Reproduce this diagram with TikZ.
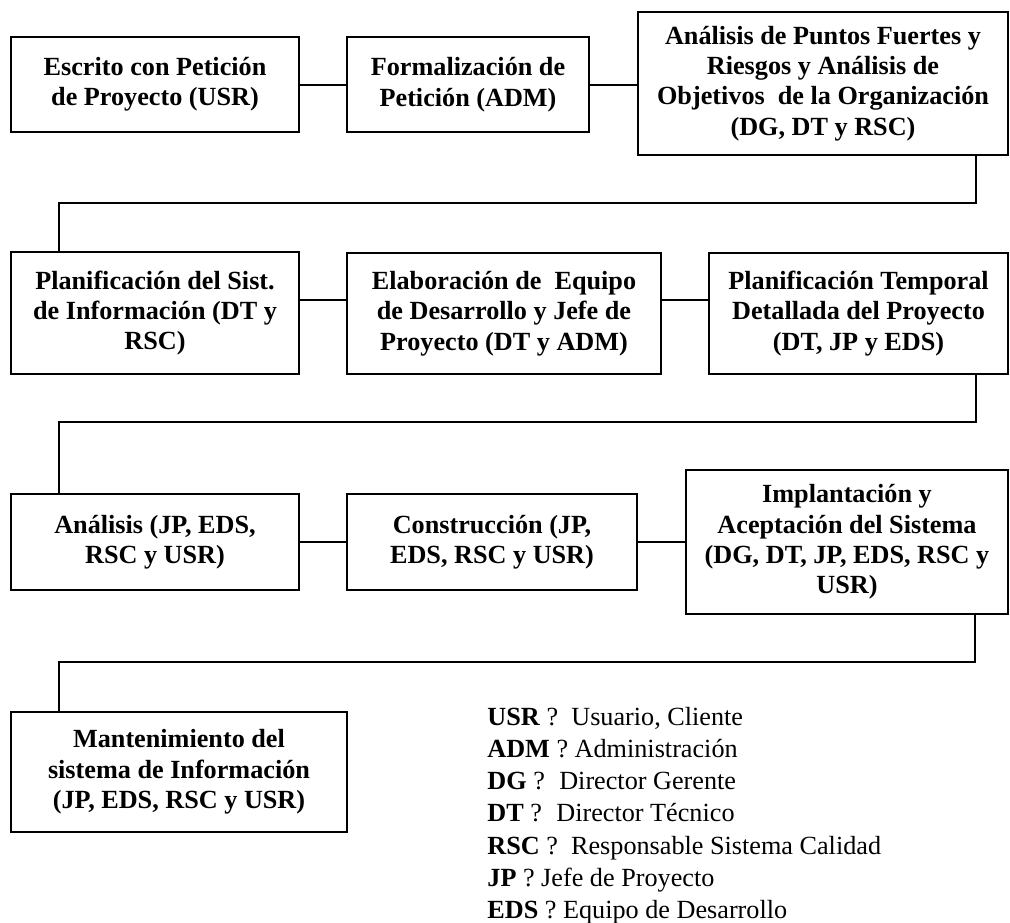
\documentclass[tikz,border=0pt]{standalone}
\usepackage{fontspec}
\setmainfont{Liberation Serif}
\begin{document}
\begin{tikzpicture}[x=0.5pt,y=-0.5pt,
  box/.style 2 args={draw, line width=1pt, minimum width=#1*0.5pt, minimum height=#2*0.5pt,
    align=center, inner sep=0pt, font=\fontsize{13.1}{15.2}\selectfont\bfseries},
  link/.style={line width=1pt},
  legend/.style={anchor=base west, inner sep=0pt, font=\fontsize{13.1}{15}\selectfont}]
\useasboundingbox (0,0) rectangle (1010,922);
% row 1
\node[box={288}{95}] (A) at (155,84.5) {Escrito con Petición\\de Proyecto (USR)};
\node[box={242}{95}] (B) at (468,84.5) {Formalización de\\Petición (ADM)};
\node[box={370}{143}] (C) at (823,83.5) {Análisis de Puntos Fuertes y\\Riesgos y Análisis de\\Objetivos\ \ de la Organización\\(DG, DT y RSC)};
% row 2
\node[box={288}{122}] (D) at (155,313) {Planificación del Sist.\\de Información (DT y\\RSC)};
\node[box={314}{121}] (E) at (504,313.5) {Elaboración de\ \ Equipo\\de Desarrollo y Jefe de\\Proyecto (DT y ADM)};
\node[box={299}{121}] (F) at (858.5,313.5) {Planificación Temporal\\Detallada del Proyecto\\(DT, JP y EDS)};
% row 3
\node[box={288}{96}] (G) at (155,542) {Análisis (JP, EDS,\\RSC y USR)};
\node[box={290}{96}] (H) at (492,542) {Construcción (JP,\\EDS, RSC y USR)};
\node[box={322}{144}] (I) at (847,542) {Implantación y\\Aceptación del Sistema\\(DG, DT, JP, EDS, RSC y\\USR)};
% row 4
\node[box={336}{120}] (J) at (179,772) {Mantenimiento del\\sistema de Información\\(JP, EDS, RSC y USR)};
% connector bend points
\coordinate (c1) at (976,203);
\coordinate (c2) at (59,203);
\coordinate (c3) at (976,422);
\coordinate (c4) at (59,422);
\coordinate (c5) at (975,662);
\coordinate (c6) at (59,662);
\coordinate (r2) at (0,300);
% connectors
\draw[link] (A.east) -- (B.west);
\draw[link] (B.east) -- (B.east -| C.west);
\draw[link] (C.south -| c1) -- (c1) -- (c2) -- (D.north -| c2);
\draw[link] (D.east |- r2) -- (E.west |- r2);
\draw[link] (E.east |- r2) -- (F.west |- r2);
\draw[link] (F.south -| c3) -- (c3) -- (c4) -- (G.north -| c4);
\draw[link] (G.east) -- (H.west);
\draw[link] (H.east) -- (H.east -| I.west);
\draw[link] (I.south -| c5) -- (c5) -- (c6) -- (J.north -| c6);
% legend
\node[legend] (L1) at (487,725) {\textbf{USR} ?\hspace{0.5em}Usuario, Cliente};
\node[legend] (L2) at (487,757) {\textbf{ADM} ? Administración};
\node[legend] (L3) at (487,789.5) {\textbf{DG} ?\hspace{0.55em}Director Gerente};
\node[legend] (L4) at (487,821.5) {\textbf{DT} ?\hspace{0.55em}Director Técnico};
\node[legend] (L5) at (487,854) {\textbf{RSC} ?\hspace{0.5em}Responsable Sistema Calidad};
\node[legend] (L6) at (487,886) {\textbf{JP} ? Jefe de Proyecto};
\node[legend] (L7) at (487,918) {\textbf{EDS} ? Equipo de Desarrollo};
\end{tikzpicture}
\end{document}
